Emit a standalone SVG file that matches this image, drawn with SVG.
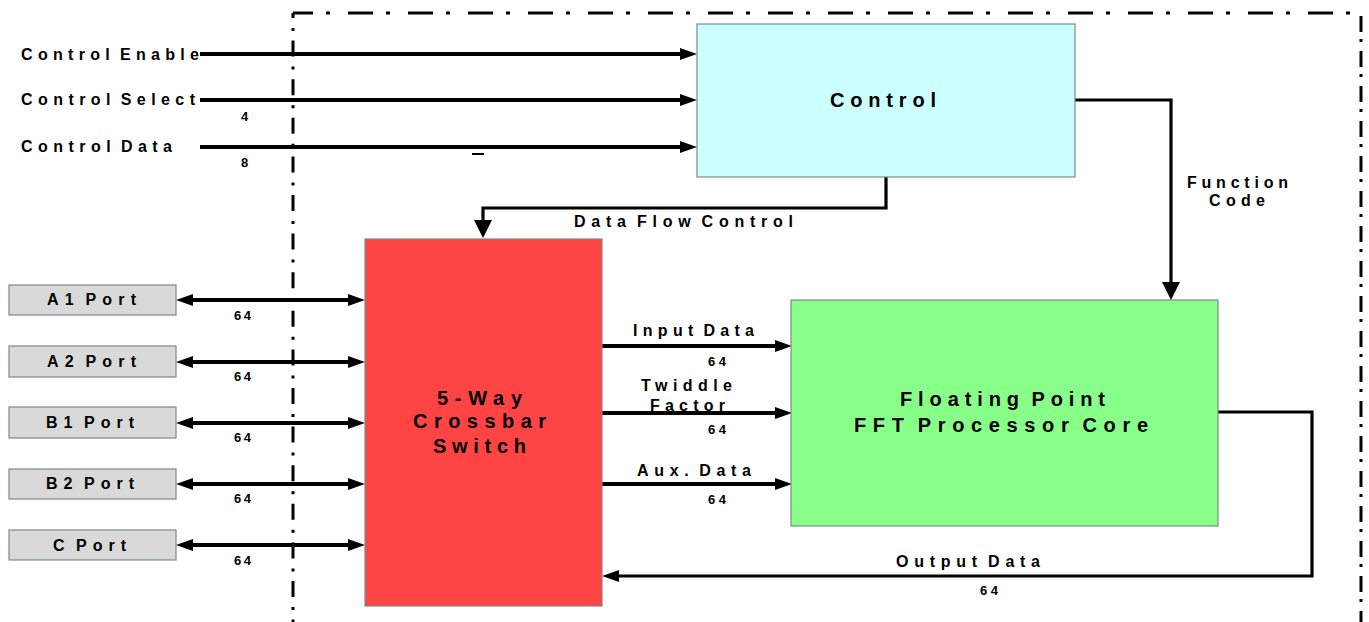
<svg xmlns="http://www.w3.org/2000/svg" width="1369" height="622" viewBox="0 0 1369 622">
<style>
text{font-family:"Liberation Sans",Arial,sans-serif;font-weight:bold;fill:#000;word-spacing:-5px}
.s{font-size:16px}
.p{font-size:16px}
.n{font-size:13px}
.b{font-size:20px}
.box{stroke:#7a8a8a;stroke-width:1.2}
.w{fill:none;stroke:#000;stroke-width:4}
.t{fill:none;stroke:#000;stroke-width:3.2}
.bd{fill:none;stroke:#000;stroke-width:3}
</style>
<defs>
<marker id="a" markerUnits="userSpaceOnUse" markerWidth="17" markerHeight="14" refX="7" refY="7" orient="auto-start-reverse"><path d="M0,1 L17,7 L0,13 z" fill="#000"/></marker>
<marker id="big" markerUnits="userSpaceOnUse" markerWidth="18" markerHeight="20" refX="8" refY="10" orient="auto"><path d="M0,1 L18,10 L0,19 z" fill="#000"/></marker>
</defs>
<g id="boundary">
<line class="bd" x1="293" y1="13" x2="1361" y2="13" stroke-dasharray="25 13 4 18" stroke-dashoffset="5"/>
<line class="bd" x1="293" y1="13" x2="293" y2="622" stroke-dasharray="16 10 3 9.6" stroke-dashoffset="11"/>
<line class="bd" x1="1361" y1="16" x2="1361" y2="622" stroke-dasharray="16 7 3 9"/>
</g>
<g id="connectors">
<path class="w" d="M200,54 H687" marker-end="url(#a)"/>
<path class="w" d="M200,100 H687" marker-end="url(#a)"/>
<path class="w" d="M200,147 H687" marker-end="url(#a)"/>
<path class="t" d="M886,177 V208 H483 V228" marker-end="url(#big)"/>
<path class="t" d="M1075,100 H1171 V290" marker-end="url(#big)"/>
<path class="w" d="M186,300 H355" marker-start="url(#a)" marker-end="url(#a)"/>
<path class="w" d="M186,362 H355" marker-start="url(#a)" marker-end="url(#a)"/>
<path class="w" d="M186,423 H355" marker-start="url(#a)" marker-end="url(#a)"/>
<path class="w" d="M186,484 H355" marker-start="url(#a)" marker-end="url(#a)"/>
<path class="w" d="M186,545 H355" marker-start="url(#a)" marker-end="url(#a)"/>
<path class="w" d="M602,346 H782" marker-end="url(#a)"/>
<path class="w" d="M602,413 H782" marker-end="url(#a)"/>
<path class="w" d="M602,484 H782" marker-end="url(#a)"/>
<path class="t" d="M1218,412 H1312 V576 H612" marker-end="url(#a)"/>
<rect x="472" y="153" width="12" height="2" fill="#000"/>
<text class="s" x="21" y="60" textLength="178" lengthAdjust="spacing">Control Enable</text>
<text class="s" x="21" y="105" textLength="174" lengthAdjust="spacing">Control Select</text>
<text class="s" x="21" y="152" textLength="151" lengthAdjust="spacing">Control Data</text>
<text class="n" x="241" y="121">4</text>
<text class="n" x="241" y="167">8</text>
<text class="p" x="574" y="227" textLength="219" lengthAdjust="spacing">Data Flow Control</text>
<text class="p" x="1187" y="188" textLength="101" lengthAdjust="spacing">Function</text>
<text class="p" x="1209" y="206" textLength="56" lengthAdjust="spacing">Code</text>
<text class="n" x="234" y="320" textLength="17" lengthAdjust="spacing">64</text>
<text class="n" x="234" y="381" textLength="17" lengthAdjust="spacing">64</text>
<text class="n" x="234" y="442" textLength="17" lengthAdjust="spacing">64</text>
<text class="n" x="234" y="503" textLength="17" lengthAdjust="spacing">64</text>
<text class="n" x="234" y="565" textLength="17" lengthAdjust="spacing">64</text>
<text class="p" x="633" y="336" textLength="121" lengthAdjust="spacing">Input Data</text>
<text class="n" x="708" y="366" textLength="18" lengthAdjust="spacing">64</text>
<text class="p" x="641" y="391" textLength="91" lengthAdjust="spacing">Twiddle</text>
<text class="p" x="650" y="411" textLength="75" lengthAdjust="spacing">Factor</text>
<text class="n" x="708" y="434" textLength="18" lengthAdjust="spacing">64</text>
<text class="p" x="637" y="476" textLength="114" lengthAdjust="spacing">Aux. Data</text>
<text class="n" x="708" y="504" textLength="18" lengthAdjust="spacing">64</text>
<text class="p" x="896" y="567" textLength="144" lengthAdjust="spacing">Output Data</text>
<text class="n" x="980" y="595" textLength="18" lengthAdjust="spacing">64</text>
</g>
<g id="control">
<rect class="box" x="697" y="24" width="378" height="153" fill="#CCFFFF"/>
<text class="b" x="830" y="107" textLength="106" lengthAdjust="spacing">Control</text>
</g>
<g id="crossbar">
<rect class="box" x="365" y="239" width="237" height="367" fill="#FF4444"/>
<text class="b" x="437" y="405" textLength="85" lengthAdjust="spacing">5-Way</text>
<text class="b" x="413" y="428" textLength="133" lengthAdjust="spacing">Crossbar</text>
<text class="b" x="433" y="453" textLength="93" lengthAdjust="spacing">Switch</text>
</g>
<g id="fft">
<rect class="box" x="791" y="300" width="427" height="226" fill="#88FF88"/>
<text class="b" x="900" y="406" textLength="205" lengthAdjust="spacing">Floating Point</text>
<text class="b" x="854" y="432" textLength="294" lengthAdjust="spacing">FFT Processor Core</text>
</g>
<g id="portA1"><rect class="box" x="9" y="285" width="167" height="30" fill="#D9D9D9"/><text class="p" x="47" y="305" textLength="89" lengthAdjust="spacing">A1 Port</text></g>
<g id="portA2"><rect class="box" x="9" y="346" width="167" height="31" fill="#D9D9D9"/><text class="p" x="47" y="367" textLength="89" lengthAdjust="spacing">A2 Port</text></g>
<g id="portB1"><rect class="box" x="9" y="407" width="167" height="31" fill="#D9D9D9"/><text class="p" x="46" y="428" textLength="88" lengthAdjust="spacing">B1 Port</text></g>
<g id="portB2"><rect class="box" x="9" y="469" width="167" height="30" fill="#D9D9D9"/><text class="p" x="46" y="489" textLength="88" lengthAdjust="spacing">B2 Port</text></g>
<g id="portC"><rect class="box" x="9" y="530" width="167" height="30" fill="#D9D9D9"/><text class="p" x="53" y="551" textLength="73" lengthAdjust="spacing">C Port</text></g>
</svg>
